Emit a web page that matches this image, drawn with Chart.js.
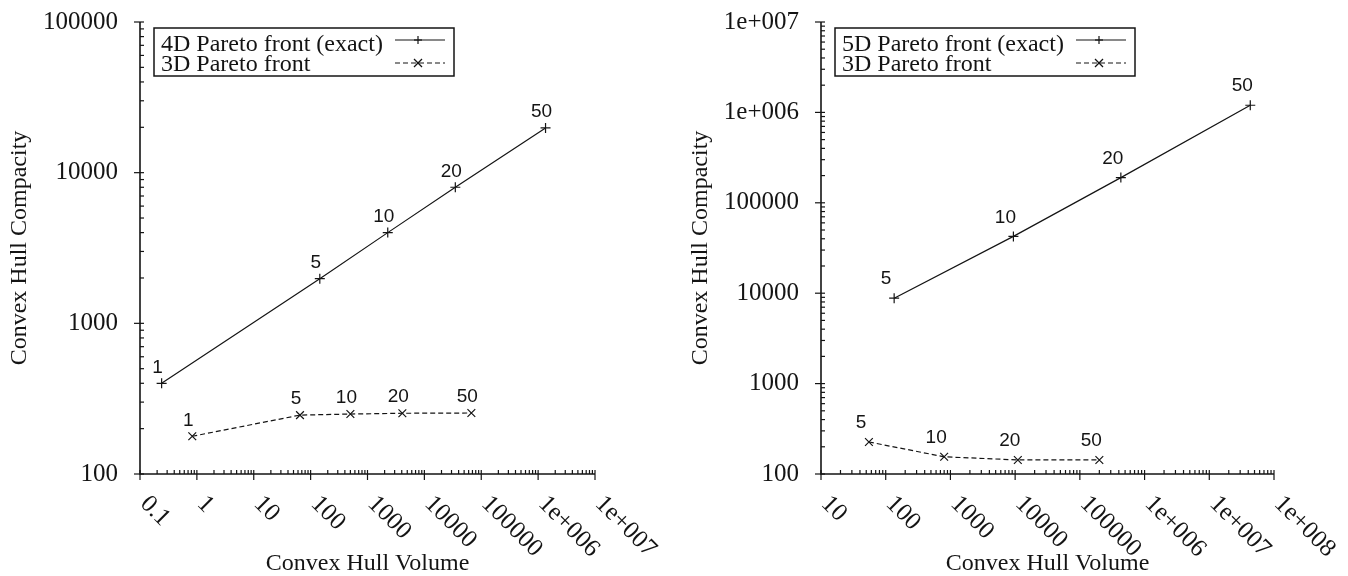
<!DOCTYPE html>
<html>
<head>
<meta charset="utf-8">
<script src="https://cdn.jsdelivr.net/npm/chart.js@4.4.1/dist/chart.umd.min.js"></script>
<style>
body { margin: 0; background: #fff; }
#wrap { position: relative; width: 1348px; height: 576px; }
canvas { position: absolute; top: 0; }
#left-chart { left: 0; }
#right-chart { left: 674px; }
</style>
</head>
<body>
<div id="wrap">
<canvas id="left-chart" width="674" height="576"></canvas>
<canvas id="right-chart" width="674" height="576"></canvas>
</div>
<script>
// values
const leftNames = ["1", "5", "10", "20", "50"];
const left4dVolume = [0.24, 145, 2270, 35000, 1350000];
const left4dCompacity = [400, 1980, 4000, 8000, 19800];
const left3dVolume = [0.83, 65, 500, 4100, 67000];
const left3dCompacity = [178, 246, 250, 253, 254];

const rightNames = ["5", "10", "20", "50"];
const right5dVolume = [135, 9400, 430000, 43000000];
const right5dCompacity = [8800, 42500, 190000, 1200000];
const right3dVolume = [55, 800, 11000, 200000];
const right3dCompacity = [226, 155, 143, 143];

const leftXTicks = ["0.1", "1", "10", "100", "1000", "10000", "100000", "1e+006", "1e+007"];
const leftYTicks = ["100", "1000", "10000", "100000"];
const rightXTicks = ["10", "100", "1000", "10000", "100000", "1e+006", "1e+007", "1e+008"];
const rightYTicks = ["100", "1000", "10000", "100000", "1e+006", "1e+007"];

const serif = '"Liberation Serif", "Times New Roman", serif';
const sans = '"Liberation Sans", Arial, sans-serif';
const ink = '#141414';

// minor log ticks 2..9 inside every decade
function minorTicks(min, max) {
    var out = [];
    for (var d = min; d < max; d *= 10) {
        for (var k = 2; k < 10; k++) {
            out.push(d * k);
        }
    }
    return out;
}

function line(ctx, x1, y1, x2, y2) {
    ctx.beginPath();
    ctx.moveTo(x1, y1);
    ctx.lineTo(x2, y2);
    ctx.stroke();
}

// gnuplot look: axes, ticks, rotated labels, titles, boxed key, point names
const gnuplotLook = {
    id: 'gnuplotLook',
    afterDraw(chart, args, opts) {
        const ctx = chart.ctx;
        const xs = chart.scales.x;
        const ys = chart.scales.y;
        const area = chart.chartArea;
        ctx.save();
        ctx.strokeStyle = ink;
        ctx.fillStyle = ink;

        // axis lines
        ctx.lineWidth = 1.6;
        ctx.beginPath();
        ctx.moveTo(area.left, area.top);
        ctx.lineTo(area.left, area.bottom);
        ctx.lineTo(area.right, area.bottom);
        ctx.stroke();

        // ticks
        ctx.lineWidth = 1.2;
        opts.xTicks.forEach(function (t) {
            var px = xs.getPixelForValue(Number(t));
            line(ctx, px, area.bottom - 4, px, area.bottom + 6);
        });
        minorTicks(xs.min, xs.max).forEach(function (v) {
            var px = xs.getPixelForValue(v);
            line(ctx, px, area.bottom - 4, px, area.bottom);
        });
        opts.yTicks.forEach(function (t) {
            var py = ys.getPixelForValue(Number(t));
            line(ctx, area.left - 6, py, area.left + 4, py);
        });
        minorTicks(ys.min, ys.max).forEach(function (v) {
            var py = ys.getPixelForValue(v);
            line(ctx, area.left, py, area.left + 4, py);
        });

        // tick labels
        ctx.font = '25px ' + serif;
        ctx.textAlign = 'right';
        ctx.textBaseline = 'middle';
        opts.yTicks.forEach(function (t) {
            ctx.fillText(t, area.left - 22, ys.getPixelForValue(Number(t)));
        });
        ctx.textAlign = 'left';
        opts.xTicks.forEach(function (t) {
            var px = xs.getPixelForValue(Number(t));
            ctx.save();
            ctx.translate(px + 4, area.bottom + 26);
            ctx.rotate(Math.PI / 4);
            ctx.fillText(t, 0, 0);
            ctx.restore();
        });

        // axis titles
        ctx.font = '24px ' + serif;
        ctx.textAlign = 'center';
        ctx.fillText(opts.xTitle, (area.left + area.right) / 2, 564);
        ctx.save();
        ctx.translate(area.left - 120, (area.top + area.bottom) / 2);
        ctx.rotate(-Math.PI / 2);
        ctx.fillText(opts.yTitle, 0, 0);
        ctx.restore();

        // key box
        var bx = area.left + 14;
        ctx.lineWidth = 1.5;
        ctx.strokeRect(bx, 28, 300, 48);
        ctx.font = '24px ' + serif;
        ctx.textAlign = 'left';
        ctx.textBaseline = 'alphabetic';
        var rowText = [51, 71];
        var rowLine = [40, 63];
        chart.data.datasets.forEach(function (ds, i) {
            ctx.fillText(ds.label, bx + 7, rowText[i]);
            ctx.save();
            ctx.lineWidth = 1.2;
            ctx.setLineDash(ds.borderDash || []);
            line(ctx, bx + 241, rowLine[i], bx + 291, rowLine[i]);
            ctx.setLineDash([]);
            var mx = bx + 264, my = rowLine[i], r = 4;
            if (ds.pointStyle === 'cross') {
                line(ctx, mx - r, my, mx + r, my);
                line(ctx, mx, my - r, mx, my + r);
            } else {
                line(ctx, mx - r, my - r, mx + r, my + r);
                line(ctx, mx - r, my + r, mx + r, my - r);
            }
            ctx.restore();
        });

        // point names next to every mark
        ctx.font = '19px ' + sans;
        ctx.textAlign = 'center';
        ctx.textBaseline = 'middle';
        chart.data.datasets.forEach(function (ds, i) {
            var meta = chart.getDatasetMeta(i);
            meta.data.forEach(function (pt, j) {
                ctx.fillText(opts.names[j], pt.x + opts.nameDx, pt.y + opts.nameDy);
            });
        });
        ctx.restore();
    }
};

function toPoints(xs, ys) {
    return xs.map(function (x, i) { return { x: x, y: ys[i] }; });
}

function makeChart(canvasId, sets, look, xRange, yRange, padding) {
    return new Chart(document.getElementById(canvasId), {
        type: 'scatter',
        data: {
            datasets: sets.map(function (s) {
                return {
                    label: s.label,
                    data: toPoints(s.x, s.y),
                    showLine: true,
                    borderColor: ink,
                    backgroundColor: ink,
                    borderWidth: 1.2,
                    borderDash: s.dash,
                    pointStyle: s.marker,
                    pointRadius: s.marker === 'cross' ? 5 : 5.5,
                    pointBorderWidth: 1.2,
                    tension: 0
                };
            })
        },
        options: {
            responsive: false,
            animation: false,
            events: [],
            layout: { padding: padding },
            scales: {
                x: { type: 'logarithmic', min: xRange[0], max: xRange[1], display: false },
                y: { type: 'logarithmic', min: yRange[0], max: yRange[1], display: false }
            },
            plugins: {
                legend: { display: false },
                tooltip: { enabled: false },
                gnuplotLook: look
            }
        },
        plugins: [gnuplotLook]
    });
}

makeChart('left-chart', [
    { label: '4D Pareto front (exact)', x: left4dVolume, y: left4dCompacity, dash: [], marker: 'cross' },
    { label: '3D Pareto front', x: left3dVolume, y: left3dCompacity, dash: [5, 3], marker: 'crossRot' }
], {
    xTicks: leftXTicks, yTicks: leftYTicks,
    xTitle: 'Convex Hull Volume', yTitle: 'Convex Hull Compacity',
    names: leftNames, nameDx: -4, nameDy: -16
}, [0.1, 1e7], [100, 1e5], { left: 140, right: 79, top: 22, bottom: 102 });

makeChart('right-chart', [
    { label: '5D Pareto front (exact)', x: right5dVolume, y: right5dCompacity, dash: [], marker: 'cross' },
    { label: '3D Pareto front', x: right3dVolume, y: right3dCompacity, dash: [5, 3], marker: 'crossRot' }
], {
    xTicks: rightXTicks, yTicks: rightYTicks,
    xTitle: 'Convex Hull Volume', yTitle: 'Convex Hull Compacity',
    names: rightNames, nameDx: -8, nameDy: -19
}, [10, 1e8], [100, 1e7], { left: 147, right: 74, top: 22, bottom: 102 });
</script>
</body>
</html>
